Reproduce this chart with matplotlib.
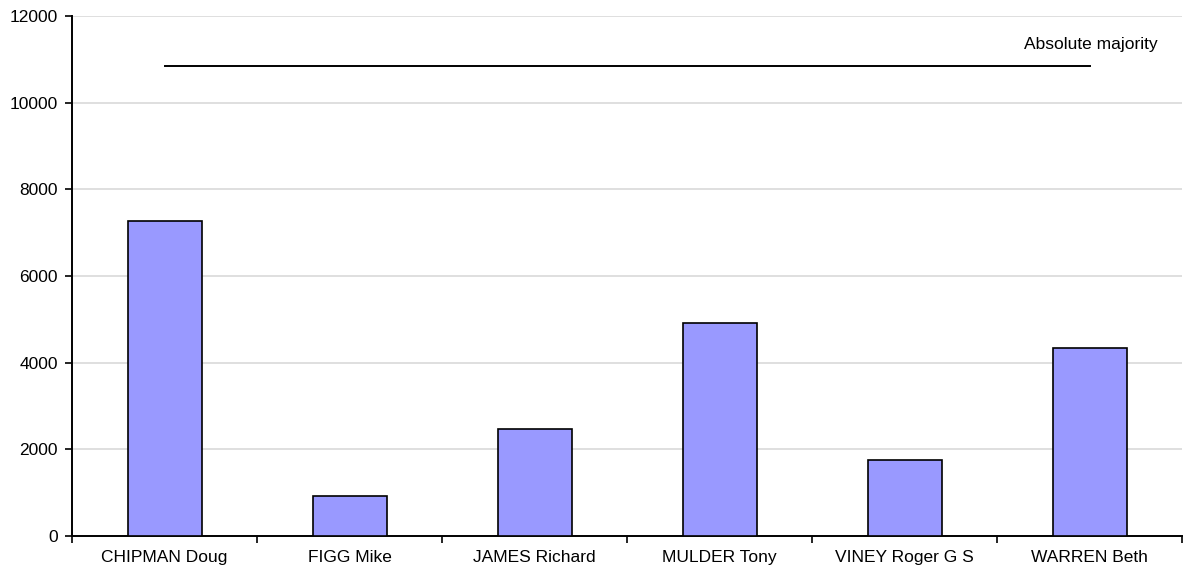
import matplotlib.pyplot as plt
import numpy as np

plt.rcParams["font.family"] = ["Liberation Sans", "DejaVu Sans"]

candidates = ["CHIPMAN Doug", "FIGG Mike", "JAMES Richard", "MULDER Tony",
              "VINEY Roger G S", "WARREN Beth"]
votes = [7280, 930, 2475, 4915, 1745, 4340]
majority = 10850

BAR_COLOR = "#9999ff"
GRID_COLOR = "#d9d9d9"
FS = 12.5

fig = plt.figure(figsize=(11.85, 5.68), dpi=100)
ax = fig.add_axes([72 / 1185, 32 / 568, 1110 / 1185, 520 / 568])

x = np.arange(len(candidates))
ax.bar(x, votes, width=0.4, color=BAR_COLOR, edgecolor="black", linewidth=1.2, zorder=3)

# majority line from first to last bar centre
ax.plot([x[0], x[-1]], [majority, majority], color="black", linewidth=1.4, zorder=4)
ax.text(5.37, 11350, "Absolute majority", ha="right", va="center", fontsize=FS)

ax.set_xlim(-0.5, len(candidates) - 0.5)
ax.set_ylim(0, 12000)
ax.set_yticks(range(0, 12001, 2000))
ax.yaxis.grid(True, color=GRID_COLOR, linewidth=1.2, zorder=0)
ax.set_axisbelow(True)

ax.set_xticks(x)
ax.set_xticklabels(candidates, fontsize=FS)
ax.tick_params(axis="x", length=0, pad=10)
ax.set_xticks(np.arange(-0.5, len(candidates), 1.0), minor=True)
ax.tick_params(axis="x", which="minor", length=5, width=1.2, direction="out")
ax.tick_params(axis="y", length=5, width=1.2, direction="out", labelsize=FS, pad=5)

for side in ["top", "right"]:
    ax.spines[side].set_visible(False)
for side in ["left", "bottom"]:
    ax.spines[side].set_linewidth(1.4)

fig.savefig("out.png", dpi=100)
